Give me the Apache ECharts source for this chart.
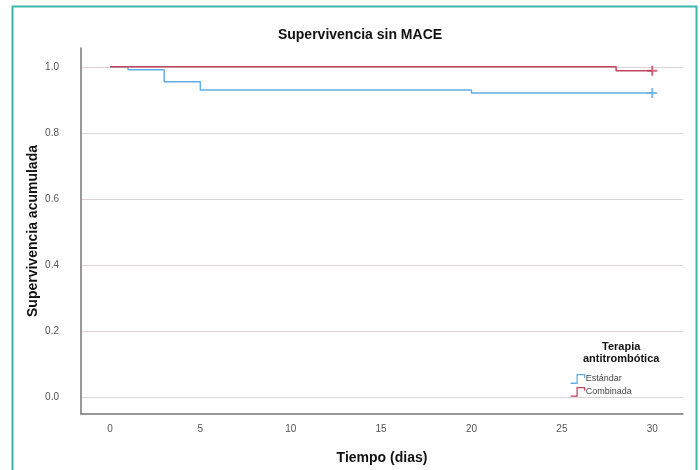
<!DOCTYPE html>
<html>
<head>
<meta charset="utf-8">
<script src="https://cdn.jsdelivr.net/npm/echarts@6/dist/echarts.min.js"></script>
<style>
  html, body { margin: 0; padding: 0; background: #fff; }
  #chart { width: 700px; height: 470px; }
</style>
</head>
<body>
<div id="chart"></div>
<script>
  // Kaplan-Meier steps: [dias, supervivencia]
  var estandar = [[0, 1.0], [1, 0.991], [3, 0.955], [5, 0.930], [20, 0.921], [30, 0.921]];
  var combinada = [[0, 1.0], [28, 0.988], [30, 0.988]];
  // censored observations (+)
  var censEstandar = [[30, 0.921]];
  var censCombinada = [[30, 0.988]];

  var xTicks = [0, 5, 10, 15, 20, 25, 30];
  var yTicks = [0, 0.2, 0.4, 0.6, 0.8, 1.0];

  var azul = '#62aee6';
  var rojo = '#c24660';
  var stepIcon = 'path://M0,9 L6,9 L6,1 L13,1 L13,4';
  var crossIcon = 'path://M4,0 L6,0 L6,4 L10,4 L10,6 L6,6 L6,10 L4,10 L4,6 L0,6 L0,4 L4,4 Z';

  var option = {
    backgroundColor: '#fff',
    animation: false,
    textStyle: { fontFamily: 'Liberation Sans, Arial, sans-serif' },
    title: {
      text: 'Supervivencia sin MACE',
      left: 355, top: 23, textAlign: 'center',
      textStyle: { fontSize: 14, fontWeight: 'bold', color: '#111' }
    },
    grid: { left: 81, right: 17, top: 48, bottom: 55 },
    graphic: [
      { type: 'rect', shape: { x: 12.5, y: 6.5, width: 684, height: 480 },
        style: { fill: 'none', stroke: '#3cb7ad', lineWidth: 2 }, silent: true },
      { type: 'text', left: 583, top: 341,
        style: { text: 'Terapia\nantitrombótica', fill: '#111', font: 'bold 11px Liberation Sans, Arial, sans-serif',
                 textAlign: 'center', lineHeight: 12 } }
    ],
    legend: {
      orient: 'vertical', left: 565, top: 369,
      itemWidth: 14, itemHeight: 9, itemGap: 3,
      icon: stepIcon,
      textStyle: { fontSize: 9, color: '#444', padding: [0, 0, 0, -4] },
      data: [
        { name: 'Estándar', itemStyle: { color: 'transparent', borderColor: azul, borderWidth: 1.3 } },
        { name: 'Combinada', itemStyle: { color: 'transparent', borderColor: rojo, borderWidth: 1.3 } }
      ]
    },
    xAxis: {
      type: 'value', min: -1.6, max: 31.7,
      name: 'Tiempo (dias)', nameLocation: 'middle', nameGap: 37,
      nameTextStyle: { fontSize: 14, fontWeight: 'bold', color: '#111' },
      axisLine: { onZero: false, lineStyle: { color: '#777', width: 1.5 } },
      axisTick: { show: false, customValues: xTicks },
      axisLabel: { customValues: xTicks, color: '#555', fontSize: 10, margin: 10 },
      splitLine: { show: false }
    },
    yAxis: {
      type: 'value', min: -0.05, max: 1.057,
      name: 'Supervivencia acumulada', nameLocation: 'middle', nameGap: 41,
      nameMoveOverlap: false,
      nameTextStyle: { fontSize: 14, fontWeight: 'bold', color: '#111' },
      axisLine: { show: true, onZero: false, lineStyle: { color: '#777', width: 1.5 } },
      axisTick: { show: false, customValues: yTicks },
      axisLabel: { customValues: yTicks, color: '#555', fontSize: 10, margin: 22,
                   formatter: function (v) { return v.toFixed(1); } },
      splitLine: { show: true, lineStyle: { color: '#dcd2d2', width: 1 } }
    },
    series: [
      { name: 'Estándar', type: 'line', step: 'end', data: estandar, showSymbol: false,
        itemStyle: { color: azul }, lineStyle: { color: azul, width: 1.5 }, z: 3 },
      { name: 'Combinada', type: 'line', step: 'end', data: combinada, showSymbol: false,
        itemStyle: { color: rojo }, lineStyle: { color: rojo, width: 1.5 }, z: 4 },
      { name: 'cens1', type: 'scatter', data: censEstandar, symbol: crossIcon, symbolSize: 10,
        itemStyle: { color: azul }, z: 5 },
      { name: 'cens2', type: 'scatter', data: censCombinada, symbol: crossIcon, symbolSize: 10,
        itemStyle: { color: rojo }, z: 5 }
    ]
  };

  var myChart = echarts.init(document.getElementById('chart'));
  myChart.setOption(option);
</script>
</body>
</html>
